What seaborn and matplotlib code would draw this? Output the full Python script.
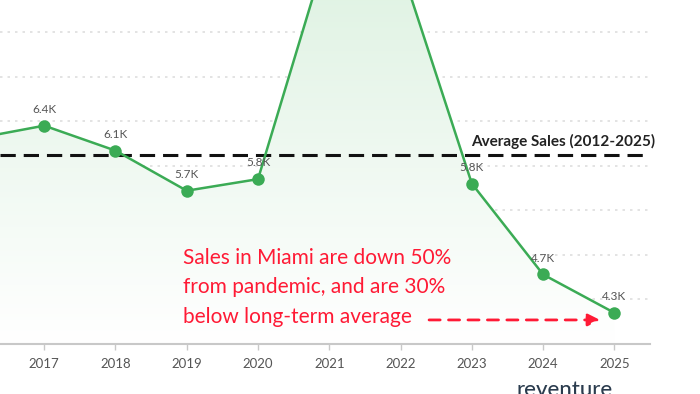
import matplotlib
matplotlib.use("Agg")
import matplotlib.pyplot as plt
import numpy as np
import pandas as pd
import seaborn as sns
from matplotlib.colors import LinearSegmentedColormap

# Data (thousands of home sales)
years = [2016, 2017, 2018, 2019, 2020, 2021, 2022, 2023, 2024, 2025]
sales = [6.30, 6.45, 6.17, 5.72, 5.85, 8.50, 8.25, 5.80, 4.78, 4.35]
# labels that fall outside the cropped view are left blank
labels = ["", "6.4K", "6.1K", "5.7K", "5.8K", "", "", "5.8K", "4.7K", "4.3K"]
avg_sales = 6.12

df = pd.DataFrame({"year": years, "sales": sales})

sns.set_theme(style="white")
plt.rcParams["font.family"] = ["Lato", "DejaVu Sans"]

fig = plt.figure(figsize=(7, 3.94), dpi=100)
ax = fig.add_axes([0, 50 / 394, 650 / 700, 344 / 394])

green = "#3bab55"
ymin, ymax = 4.0, 7.86

# gradient fill under the line
cmap = LinearSegmentedColormap.from_list("g", ["#ffffff", "#dcf1e0"])
grad = np.linspace(0, 1, 256).reshape(-1, 1)
img = ax.imshow(grad, aspect="auto", cmap=cmap, origin="lower",
                extent=[2016, 2025, ymin, 8.6], zorder=1)
poly = ax.fill_between(df["year"], df["sales"], ymin, color="none")
img.set_clip_path(poly.get_paths()[0], transform=ax.transData)

# dotted gridlines
for g in np.arange(4.5, 8.0, 0.5):
    ax.axhline(g, color="#dedede", ls=(0, (1.5, 3)), lw=1.2, zorder=0)

sns.lineplot(data=df, x="year", y="sales", ax=ax, color=green, lw=1.8,
             marker="o", markersize=9, markeredgewidth=0, zorder=4)

for x, y, t in zip(years, sales, labels):
    if t:
        ax.text(x, y + 0.12, t, ha="center", va="bottom", fontsize=8.5,
                color="#555555", zorder=5)

# average line
ax.axhline(avg_sales, color="#111111", ls=(0, (5, 2.6)), lw=2.2, zorder=3)
ax.text(2022.99, avg_sales + 0.07, "Average Sales (2012-2025)", fontsize=11,
        fontweight="bold", color="#222222", ha="left", va="bottom", zorder=5)

# annotation
red = "#ff1a35"
ax.text(2018.95, 5.08, "Sales in Miami are down 50%\nfrom pandemic, and are 30%\nbelow long-term average",
        fontsize=15, color=red, ha="left", va="top", linespacing=1.6, zorder=5)
ax.annotate("", xy=(2024.8, 4.27), xytext=(2022.4, 4.27),
            arrowprops=dict(arrowstyle="-|>,head_length=0.6,head_width=0.3",
                            color=red, lw=2, ls=(0, (4, 3)), shrinkA=0, shrinkB=0),
            zorder=5)

ax.set_xlim(2016.38, 2025.5)
ax.set_ylim(ymin, ymax)
ax.set_xticks(years[1:])
ax.set_xticklabels([str(y) for y in years[1:]])
ax.set_yticks([])
ax.set_xlabel("")
ax.set_ylabel("")
for s in ["top", "right", "left"]:
    ax.spines[s].set_visible(False)
ax.spines["bottom"].set_color("#c8c8c8")
ax.spines["bottom"].set_linewidth(1.5)
ax.tick_params(axis="x", colors="#c8c8c8", length=4, width=1, labelsize=9.5,
               labelcolor="#555555", pad=6, bottom=True)

fig.text(517 / 700, -2 / 394, "reventure", fontsize=16, color="#2b3c4e",
         ha="left", va="baseline", fontweight="medium")

fig.savefig("out.png", dpi=100)
